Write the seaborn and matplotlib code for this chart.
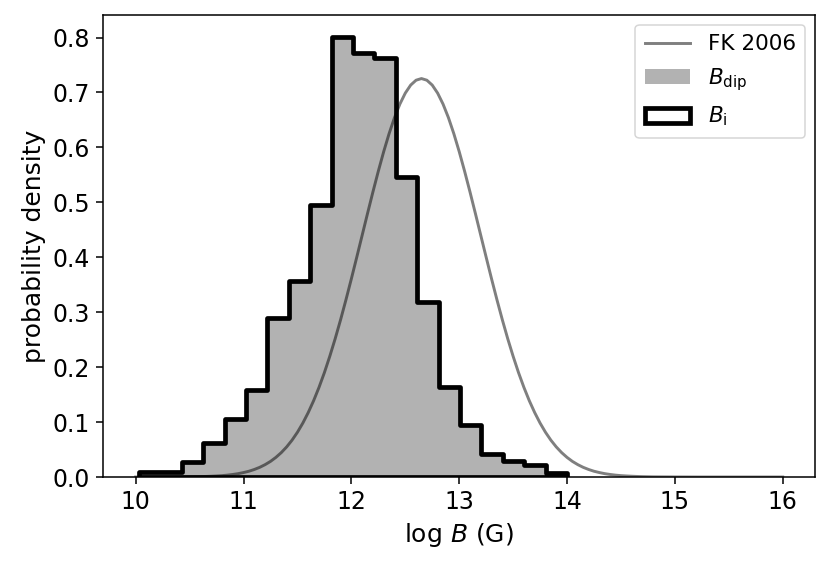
import matplotlib
matplotlib.use("Agg")
import matplotlib.pyplot as plt
from matplotlib.lines import Line2D
from matplotlib.patches import Patch
import numpy as np
import pandas as pd
import seaborn as sns

# histogram of log B (same bins for B_dip and B_i)
bin_lo, bin_hi, n_bins = 10.03, 14.0, 20
density = [0.010, 0.010, 0.028, 0.061, 0.106, 0.158, 0.289, 0.356, 0.496, 0.801,
           0.772, 0.762, 0.547, 0.319, 0.163, 0.094, 0.041, 0.029, 0.022, 0.007]

# FK 2006 log-normal field distribution
fk_x = [10.0, 10.1, 10.2, 10.3, 10.4, 10.5, 10.55, 10.6, 10.65, 10.7, 10.75,
        10.8, 10.85, 10.9, 10.95, 11.0, 11.05, 11.1, 11.15, 11.2, 11.25,
        11.3, 11.35, 11.4, 11.45, 11.5, 11.55, 11.6, 11.65, 11.7, 11.75,
        11.8, 11.85, 11.9, 11.95, 12.0, 12.05, 12.1, 12.15, 12.2, 12.25,
        12.3, 12.35, 12.4, 12.45, 12.5, 12.55, 12.6, 12.65, 12.7, 12.75,
        12.8, 12.85, 12.9, 12.95, 13.0, 13.05, 13.1, 13.15, 13.2, 13.25,
        13.3, 13.35, 13.4, 13.45, 13.5, 13.55, 13.6, 13.65, 13.7, 13.75,
        13.8, 13.85, 13.9, 13.95, 14.0, 14.05, 14.1, 14.15, 14.2, 14.25,
        14.3, 14.35, 14.4, 14.45, 14.5, 14.55, 14.6, 14.65, 14.7, 14.75,
        14.8, 14.9, 15.0, 15.2, 15.4, 15.6, 15.8, 16.0]
fk_y = [0.0, 0.0, 0.0, 0.0001, 0.0002, 0.0003, 0.0005, 0.0007, 0.0010, 0.0014, 0.0019,
        0.0025, 0.0034, 0.0046, 0.0061, 0.0081, 0.0105, 0.0137, 0.0176, 0.0225, 0.0284,
        0.0357, 0.0444, 0.0548, 0.0671, 0.0815, 0.0982, 0.1173, 0.1389, 0.1632, 0.1901,
        0.2198, 0.2518, 0.2862, 0.3227, 0.3608, 0.4001, 0.4399, 0.4798, 0.5190, 0.5567,
        0.5924, 0.6251, 0.6542, 0.6789, 0.6988, 0.7134, 0.7223, 0.7253, 0.7223, 0.7134,
        0.6988, 0.6789, 0.6542, 0.6251, 0.5924, 0.5567, 0.5190, 0.4798, 0.4399, 0.4001,
        0.3608, 0.3227, 0.2862, 0.2518, 0.2198, 0.1901, 0.1632, 0.1389, 0.1173, 0.0982,
        0.0815, 0.0671, 0.0548, 0.0444, 0.0357, 0.0284, 0.0225, 0.0176, 0.0137, 0.0105,
        0.0081, 0.0061, 0.0046, 0.0034, 0.0025, 0.0019, 0.0014, 0.0010, 0.0007, 0.0005,
        0.0003, 0.0002, 0.0001, 0.0, 0.0, 0.0, 0.0, 0.0]

edges = np.linspace(bin_lo, bin_hi, n_bins + 1)
df = pd.DataFrame({"logB": 0.5 * (edges[:-1] + edges[1:]), "density": density})
bins = [float(e) for e in edges]

plt.rcParams["font.family"] = ["DejaVu Sans"]
plt.rcParams["axes.linewidth"] = 1.1
for ax_name in ("xtick", "ytick"):
    plt.rcParams[f"{ax_name}.major.size"] = 4.8
    plt.rcParams[f"{ax_name}.major.width"] = 1.1
    plt.rcParams[f"{ax_name}.major.pad"] = 4.8
    plt.rcParams[f"{ax_name}.labelsize"] = 17

fig = plt.figure(figsize=(8.3, 5.68), dpi=100)
ax = fig.add_axes([0.1245, 0.1602, 0.982 - 0.1245, 0.9736 - 0.1602])

# B_dip: filled grey
sns.histplot(data=df, x="logB", weights="density", bins=bins, stat="count", element="bars",
             color="k", alpha=0.3, linewidth=0, ax=ax, zorder=1)
# FK 2006 curve
sns.lineplot(x=fk_x, y=fk_y, color="k", alpha=0.5, linewidth=2.1, ax=ax, zorder=2,
             sort=False)
# B_i: black outline
sns.histplot(data=df, x="logB", weights="density", bins=bins, stat="count", element="step",
             fill=True, color="k", facecolor="none", edgecolor="k", linewidth=3.4,
             ax=ax, zorder=3)

ax.set_xlim(9.7, 16.3)
ax.set_ylim(0, 0.841)
ax.set_xlabel(r"log $B$ (G)", fontsize=18, labelpad=4.8)
ax.set_ylabel("probability density", fontsize=18, labelpad=4.8)
ax.set_xticks([10, 11, 12, 13, 14, 15, 16])
ax.set_yticks([0.0, 0.1, 0.2, 0.3, 0.4, 0.5, 0.6, 0.7, 0.8])

handles = [
    Line2D([], [], color="k", alpha=0.5, linewidth=2.1),
    Patch(facecolor="k", alpha=0.3),
    Patch(facecolor="none", edgecolor="k", linewidth=3.4),
]
leg = ax.legend(handles, ["FK 2006", r"$B_{\rm dip}$", r"$B_{\rm i}$"], loc="upper right",
                fontsize=15.5, handlelength=2.1, handletextpad=0.8,
                labelspacing=0.55, borderpad=0.45, borderaxespad=0.45)
leg.get_frame().set_linewidth(1.1)

fig.savefig("out.png", dpi=100)
